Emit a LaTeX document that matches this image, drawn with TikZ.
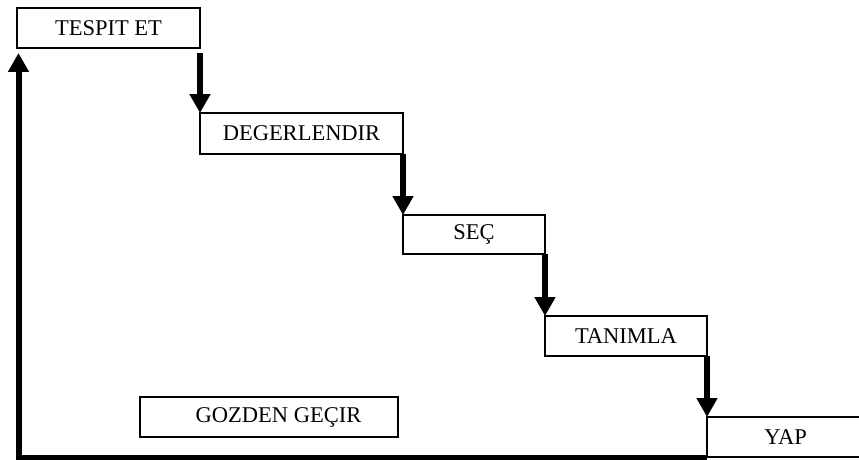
\documentclass[tikz,border=0pt]{standalone}
\usepackage{fontspec}
\setmainfont{Liberation Serif}
\usetikzlibrary{arrows.meta}
\begin{document}
\begin{tikzpicture}[x=1pt,y=-1pt,
  stepbox/.style={draw=black, line width=1.4pt, fill=white, inner sep=0pt, outer sep=0pt,
    anchor=north west, font=\fontsize{22.5}{26}\selectfont},
  flow/.style={line width=6pt, -{Triangle[width=20pt,length=19pt]}}]
\fill[white] (0,0) rectangle (859,460);
\useasboundingbox (0,0) rectangle (859,460);
\clip (0,0) rectangle (859,460);
\node[stepbox, minimum width=183pt, minimum height=40pt] (tespit) at (17,8) {TESPIT ET};
\node[stepbox, minimum width=203pt, minimum height=41pt] (deger) at (200,113) {DEGERLENDIR};
\node[stepbox, minimum width=142pt, minimum height=39pt] (sec) at (403,215) {SEÇ};
\node[stepbox, minimum width=162pt, minimum height=40pt] (tanimla) at (545,316) {TANIMLA};
\node[stepbox, minimum width=157pt, minimum height=40pt] (yap) at (707,417) {YAP};
\node[stepbox, minimum width=258pt, minimum height=40pt] (gozden) at (140,397) {\hspace{19pt}GOZDEN GEÇIR};
\coordinate (ret) at (18.5,53);
\draw[flow] ([yshift=-5pt]tespit.south east) -- (deger.north west);
\draw[flow] (deger.south east) -- (sec.north west);
\draw[flow] (sec.south east) -- (tanimla.north west);
\draw[flow] (tanimla.south east) -- (yap.north west);
\draw[flow, line join=miter] ([yshift=-0.5pt]yap.south west) -| (ret);
\end{tikzpicture}
\end{document}
